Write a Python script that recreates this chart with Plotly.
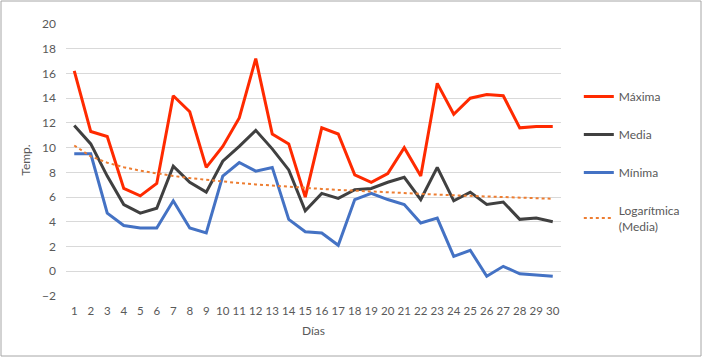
import numpy as np
import plotly.graph_objects as go

dias = list(range(1, 31))
maxima = [16.2, 11.3, 10.9, 6.7, 6.1, 7.1, 14.2, 12.9, 8.4, 10.1,
          12.4, 17.2, 11.1, 10.3, 6.0, 11.6, 11.1, 7.8, 7.2, 7.9,
          10.0, 7.7, 15.2, 12.7, 14.0, 14.3, 14.2, 11.6, 11.7, 11.7]
media = [11.8, 10.3, 7.7, 5.4, 4.7, 5.1, 8.5, 7.2, 6.4, 8.9,
         10.1, 11.4, 9.9, 8.2, 4.9, 6.3, 5.9, 6.6, 6.7, 7.2,
         7.6, 5.8, 8.4, 5.7, 6.4, 5.4, 5.6, 4.2, 4.3, 4.0]
minima = [9.5, 9.5, 4.7, 3.7, 3.5, 3.5, 5.7, 3.5, 3.1, 7.7,
          8.8, 8.1, 8.4, 4.2, 3.2, 3.1, 2.1, 5.8, 6.3, 5.8,
          5.4, 3.9, 4.3, 1.2, 1.7, -0.4, 0.4, -0.2, -0.3, -0.4]
y_ticks = list(range(-2, 21, 2))

# Logarithmic trendline fitted to "Media" (as the spreadsheet does)
b, a = np.polyfit(np.log(dias), media, 1)
tendencia = list(a + b * np.log(dias))

font_fam = "Lato, 'Liberation Sans', sans-serif"
gris_txt = "#595959"

fig = go.Figure()
fig.add_trace(go.Scatter(x=dias, y=maxima, mode="lines", name="Máxima",
                         line=dict(color="#FF2A00", width=3), legendgroup="a"))
fig.add_trace(go.Scatter(x=dias, y=media, mode="lines", name="Media",
                         line=dict(color="#404040", width=3), legendgroup="b"))
fig.add_trace(go.Scatter(x=dias, y=minima, mode="lines", name="Mínima",
                         line=dict(color="#4472C4", width=3), legendgroup="c"))
fig.add_trace(go.Scatter(x=dias, y=tendencia, mode="lines", name="Logarítmica<br>(Media)",
                         line=dict(color="#ED7D31", width=2, dash="dot"), legendgroup="d"))

fig.update_layout(
    width=702, height=357,
    margin=dict(l=66, r=141, t=24, b=61),
    paper_bgcolor="white", plot_bgcolor="white",
    font=dict(family=font_fam, size=12, color=gris_txt),
    showlegend=True,
    legend=dict(x=1.036, xanchor="left", y=0.787, yanchor="top",
                tracegroupgap=19, font=dict(size=12, color=gris_txt),
                bgcolor="rgba(0,0,0,0)"),
    xaxis=dict(range=[0.5, 30.5], tickmode="array", tickvals=dias,
               ticktext=[str(d) for d in dias], tickangle=0,
               showgrid=False, zeroline=False, showline=False,
               ticks="", ticklabelstandoff=6, automargin=False,
               tickfont=dict(size=11.5, color=gris_txt),
               title=dict(text="Días", font=dict(size=12, color=gris_txt), standoff=11)),
    yaxis=dict(range=[-2, 20], tickmode="array", tickvals=y_ticks,
               showgrid=True, gridcolor="#D9D9D9", gridwidth=1,
               zeroline=False, showline=False, ticks="",
               ticklabelstandoff=9, automargin=False,
               tickfont=dict(size=12, color=gris_txt),
               title=dict(text="Temp.", font=dict(size=12, color=gris_txt), standoff=8)),
    shapes=[dict(type="rect", xref="paper", yref="paper",
                 x0=(1 - 66) / 495, x1=(701 - 66) / 495,
                 y0=(296 - 356) / 272, y1=(296 - 1) / 272,
                 line=dict(color="#A6A6A6", width=1), fillcolor="rgba(0,0,0,0)",
                 layer="below")],
)

fig.write_html("out.html", config={"displayModeBar": False},
               post_script="document.body.style.margin='0';document.body.style.overflow='hidden';")
